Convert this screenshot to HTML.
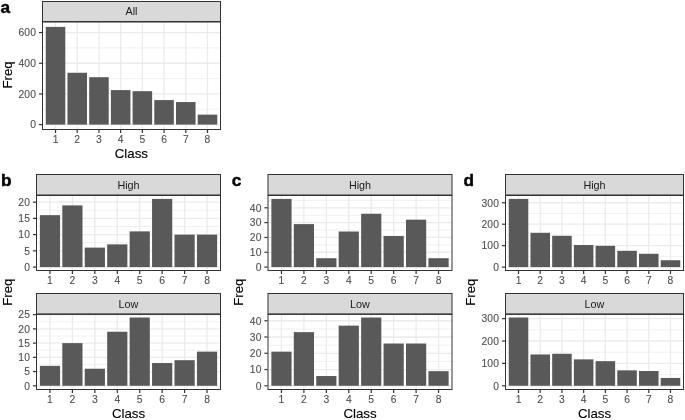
<!DOCTYPE html>
<html><head><meta charset="utf-8"><title>Figure</title>
<style>
html,body{margin:0;padding:0;background:#fff;}
svg{display:block;will-change:transform;font-family:"Liberation Sans", Arial, Helvetica, sans-serif;}
</style></head><body>
<svg width="685" height="420" viewBox="0 0 685 420">
<rect width="685" height="420" fill="#fff"/>
<rect x="42.50" y="22.00" width="178.00" height="107.50" fill="#fff"/>
<line x1="42.50" x2="220.50" y1="109.27" y2="109.27" stroke="#ebebeb" stroke-width="0.7"/>
<line x1="42.50" x2="220.50" y1="78.59" y2="78.59" stroke="#ebebeb" stroke-width="0.7"/>
<line x1="42.50" x2="220.50" y1="47.90" y2="47.90" stroke="#ebebeb" stroke-width="0.7"/>
<line x1="42.50" x2="220.50" y1="124.61" y2="124.61" stroke="#ebebeb" stroke-width="1.3"/>
<line x1="42.50" x2="220.50" y1="93.93" y2="93.93" stroke="#ebebeb" stroke-width="1.3"/>
<line x1="42.50" x2="220.50" y1="63.25" y2="63.25" stroke="#ebebeb" stroke-width="1.3"/>
<line x1="42.50" x2="220.50" y1="32.56" y2="32.56" stroke="#ebebeb" stroke-width="1.3"/>
<line x1="55.52" x2="55.52" y1="22.00" y2="129.50" stroke="#ebebeb" stroke-width="1.3"/>
<line x1="77.23" x2="77.23" y1="22.00" y2="129.50" stroke="#ebebeb" stroke-width="1.3"/>
<line x1="98.94" x2="98.94" y1="22.00" y2="129.50" stroke="#ebebeb" stroke-width="1.3"/>
<line x1="120.65" x2="120.65" y1="22.00" y2="129.50" stroke="#ebebeb" stroke-width="1.3"/>
<line x1="142.35" x2="142.35" y1="22.00" y2="129.50" stroke="#ebebeb" stroke-width="1.3"/>
<line x1="164.06" x2="164.06" y1="22.00" y2="129.50" stroke="#ebebeb" stroke-width="1.3"/>
<line x1="185.77" x2="185.77" y1="22.00" y2="129.50" stroke="#ebebeb" stroke-width="1.3"/>
<line x1="207.48" x2="207.48" y1="22.00" y2="129.50" stroke="#ebebeb" stroke-width="1.3"/>
<rect x="45.76" y="26.89" width="19.54" height="97.73" fill="#595959"/>
<rect x="67.46" y="72.76" width="19.54" height="51.86" fill="#595959"/>
<rect x="89.17" y="77.21" width="19.54" height="47.41" fill="#595959"/>
<rect x="110.88" y="90.09" width="19.54" height="34.52" fill="#595959"/>
<rect x="132.59" y="91.17" width="19.54" height="33.45" fill="#595959"/>
<rect x="154.29" y="100.07" width="19.54" height="24.55" fill="#595959"/>
<rect x="176.00" y="102.06" width="19.54" height="22.55" fill="#595959"/>
<rect x="197.71" y="114.64" width="19.54" height="9.97" fill="#595959"/>
<rect x="42.50" y="22.00" width="178.00" height="107.50" fill="none" stroke="#333" stroke-width="1"/>
<rect x="42.50" y="1.50" width="178.00" height="20.00" fill="#d9d9d9" stroke="#333" stroke-width="1"/>
<text x="131.50" y="15.40" text-anchor="middle" font-size="10.8" fill="#1a1a1a">All</text>
<line x1="38.90" x2="42.00" y1="124.61" y2="124.61" stroke="#333" stroke-width="1.2"/>
<text x="36.10" y="128.41" text-anchor="end" letter-spacing="0.17" font-size="10.3" fill="#4d4d4d" stroke="#4d4d4d" stroke-width="0.1">0</text>
<line x1="38.90" x2="42.00" y1="93.93" y2="93.93" stroke="#333" stroke-width="1.2"/>
<text x="36.10" y="97.73" text-anchor="end" letter-spacing="0.17" font-size="10.3" fill="#4d4d4d" stroke="#4d4d4d" stroke-width="0.1">200</text>
<line x1="38.90" x2="42.00" y1="63.25" y2="63.25" stroke="#333" stroke-width="1.2"/>
<text x="36.10" y="67.05" text-anchor="end" letter-spacing="0.17" font-size="10.3" fill="#4d4d4d" stroke="#4d4d4d" stroke-width="0.1">400</text>
<line x1="38.90" x2="42.00" y1="32.56" y2="32.56" stroke="#333" stroke-width="1.2"/>
<text x="36.10" y="36.36" text-anchor="end" letter-spacing="0.17" font-size="10.3" fill="#4d4d4d" stroke="#4d4d4d" stroke-width="0.1">600</text>
<line x1="55.52" x2="55.52" y1="130.00" y2="133.00" stroke="#333" stroke-width="1.2"/>
<text x="55.52" y="143.45" text-anchor="middle" font-size="10.3" fill="#4d4d4d" stroke="#4d4d4d" stroke-width="0.1">1</text>
<line x1="77.23" x2="77.23" y1="130.00" y2="133.00" stroke="#333" stroke-width="1.2"/>
<text x="77.23" y="143.45" text-anchor="middle" font-size="10.3" fill="#4d4d4d" stroke="#4d4d4d" stroke-width="0.1">2</text>
<line x1="98.94" x2="98.94" y1="130.00" y2="133.00" stroke="#333" stroke-width="1.2"/>
<text x="98.94" y="143.45" text-anchor="middle" font-size="10.3" fill="#4d4d4d" stroke="#4d4d4d" stroke-width="0.1">3</text>
<line x1="120.65" x2="120.65" y1="130.00" y2="133.00" stroke="#333" stroke-width="1.2"/>
<text x="120.65" y="143.45" text-anchor="middle" font-size="10.3" fill="#4d4d4d" stroke="#4d4d4d" stroke-width="0.1">4</text>
<line x1="142.35" x2="142.35" y1="130.00" y2="133.00" stroke="#333" stroke-width="1.2"/>
<text x="142.35" y="143.45" text-anchor="middle" font-size="10.3" fill="#4d4d4d" stroke="#4d4d4d" stroke-width="0.1">5</text>
<line x1="164.06" x2="164.06" y1="130.00" y2="133.00" stroke="#333" stroke-width="1.2"/>
<text x="164.06" y="143.45" text-anchor="middle" font-size="10.3" fill="#4d4d4d" stroke="#4d4d4d" stroke-width="0.1">6</text>
<line x1="185.77" x2="185.77" y1="130.00" y2="133.00" stroke="#333" stroke-width="1.2"/>
<text x="185.77" y="143.45" text-anchor="middle" font-size="10.3" fill="#4d4d4d" stroke="#4d4d4d" stroke-width="0.1">7</text>
<line x1="207.48" x2="207.48" y1="130.00" y2="133.00" stroke="#333" stroke-width="1.2"/>
<text x="207.48" y="143.45" text-anchor="middle" font-size="10.3" fill="#4d4d4d" stroke="#4d4d4d" stroke-width="0.1">8</text>
<text x="131.40" y="158.40" text-anchor="middle" font-size="13.3" fill="#000" stroke="#000" stroke-width="0.12">Class</text>
<text transform="translate(11.90,74.90) rotate(-90)" text-anchor="middle" font-size="13.3" fill="#000" stroke="#000" stroke-width="0.12">Freq</text>
<text x="0.60" y="12.70" font-size="17.2" font-weight="bold" fill="#000" stroke="#000" stroke-width="0.45">a</text>
<rect x="36.50" y="195.50" width="184.00" height="75.00" fill="#fff"/>
<line x1="36.50" x2="220.50" y1="258.97" y2="258.97" stroke="#ebebeb" stroke-width="0.7"/>
<line x1="36.50" x2="220.50" y1="242.74" y2="242.74" stroke="#ebebeb" stroke-width="0.7"/>
<line x1="36.50" x2="220.50" y1="226.51" y2="226.51" stroke="#ebebeb" stroke-width="0.7"/>
<line x1="36.50" x2="220.50" y1="210.27" y2="210.27" stroke="#ebebeb" stroke-width="0.7"/>
<line x1="36.50" x2="220.50" y1="267.09" y2="267.09" stroke="#ebebeb" stroke-width="1.3"/>
<line x1="36.50" x2="220.50" y1="250.86" y2="250.86" stroke="#ebebeb" stroke-width="1.3"/>
<line x1="36.50" x2="220.50" y1="234.62" y2="234.62" stroke="#ebebeb" stroke-width="1.3"/>
<line x1="36.50" x2="220.50" y1="218.39" y2="218.39" stroke="#ebebeb" stroke-width="1.3"/>
<line x1="36.50" x2="220.50" y1="202.16" y2="202.16" stroke="#ebebeb" stroke-width="1.3"/>
<line x1="49.96" x2="49.96" y1="195.50" y2="270.50" stroke="#ebebeb" stroke-width="1.3"/>
<line x1="72.40" x2="72.40" y1="195.50" y2="270.50" stroke="#ebebeb" stroke-width="1.3"/>
<line x1="94.84" x2="94.84" y1="195.50" y2="270.50" stroke="#ebebeb" stroke-width="1.3"/>
<line x1="117.28" x2="117.28" y1="195.50" y2="270.50" stroke="#ebebeb" stroke-width="1.3"/>
<line x1="139.72" x2="139.72" y1="195.50" y2="270.50" stroke="#ebebeb" stroke-width="1.3"/>
<line x1="162.16" x2="162.16" y1="195.50" y2="270.50" stroke="#ebebeb" stroke-width="1.3"/>
<line x1="184.60" x2="184.60" y1="195.50" y2="270.50" stroke="#ebebeb" stroke-width="1.3"/>
<line x1="207.04" x2="207.04" y1="195.50" y2="270.50" stroke="#ebebeb" stroke-width="1.3"/>
<rect x="39.87" y="215.14" width="20.20" height="51.95" fill="#595959"/>
<rect x="62.30" y="205.40" width="20.20" height="61.69" fill="#595959"/>
<rect x="84.74" y="247.61" width="20.20" height="19.48" fill="#595959"/>
<rect x="107.18" y="244.36" width="20.20" height="22.73" fill="#595959"/>
<rect x="129.62" y="231.38" width="20.20" height="35.71" fill="#595959"/>
<rect x="152.06" y="198.91" width="20.20" height="68.18" fill="#595959"/>
<rect x="174.50" y="234.62" width="20.20" height="32.47" fill="#595959"/>
<rect x="196.94" y="234.62" width="20.20" height="32.47" fill="#595959"/>
<rect x="36.50" y="195.50" width="184.00" height="75.00" fill="none" stroke="#333" stroke-width="1"/>
<rect x="36.50" y="174.50" width="184.00" height="20.50" fill="#d9d9d9" stroke="#333" stroke-width="1"/>
<text x="128.50" y="188.65" text-anchor="middle" font-size="10.8" fill="#1a1a1a">High</text>
<line x1="32.90" x2="36.00" y1="267.09" y2="267.09" stroke="#333" stroke-width="1.2"/>
<text x="30.10" y="270.89" text-anchor="end" letter-spacing="0.17" font-size="10.3" fill="#4d4d4d" stroke="#4d4d4d" stroke-width="0.1">0</text>
<line x1="32.90" x2="36.00" y1="250.86" y2="250.86" stroke="#333" stroke-width="1.2"/>
<text x="30.10" y="254.66" text-anchor="end" letter-spacing="0.17" font-size="10.3" fill="#4d4d4d" stroke="#4d4d4d" stroke-width="0.1">5</text>
<line x1="32.90" x2="36.00" y1="234.62" y2="234.62" stroke="#333" stroke-width="1.2"/>
<text x="30.10" y="238.42" text-anchor="end" letter-spacing="0.17" font-size="10.3" fill="#4d4d4d" stroke="#4d4d4d" stroke-width="0.1">10</text>
<line x1="32.90" x2="36.00" y1="218.39" y2="218.39" stroke="#333" stroke-width="1.2"/>
<text x="30.10" y="222.19" text-anchor="end" letter-spacing="0.17" font-size="10.3" fill="#4d4d4d" stroke="#4d4d4d" stroke-width="0.1">15</text>
<line x1="32.90" x2="36.00" y1="202.16" y2="202.16" stroke="#333" stroke-width="1.2"/>
<text x="30.10" y="205.96" text-anchor="end" letter-spacing="0.17" font-size="10.3" fill="#4d4d4d" stroke="#4d4d4d" stroke-width="0.1">20</text>
<line x1="49.96" x2="49.96" y1="271.00" y2="274.00" stroke="#333" stroke-width="1.2"/>
<text x="49.96" y="284.45" text-anchor="middle" font-size="10.3" fill="#4d4d4d" stroke="#4d4d4d" stroke-width="0.1">1</text>
<line x1="72.40" x2="72.40" y1="271.00" y2="274.00" stroke="#333" stroke-width="1.2"/>
<text x="72.40" y="284.45" text-anchor="middle" font-size="10.3" fill="#4d4d4d" stroke="#4d4d4d" stroke-width="0.1">2</text>
<line x1="94.84" x2="94.84" y1="271.00" y2="274.00" stroke="#333" stroke-width="1.2"/>
<text x="94.84" y="284.45" text-anchor="middle" font-size="10.3" fill="#4d4d4d" stroke="#4d4d4d" stroke-width="0.1">3</text>
<line x1="117.28" x2="117.28" y1="271.00" y2="274.00" stroke="#333" stroke-width="1.2"/>
<text x="117.28" y="284.45" text-anchor="middle" font-size="10.3" fill="#4d4d4d" stroke="#4d4d4d" stroke-width="0.1">4</text>
<line x1="139.72" x2="139.72" y1="271.00" y2="274.00" stroke="#333" stroke-width="1.2"/>
<text x="139.72" y="284.45" text-anchor="middle" font-size="10.3" fill="#4d4d4d" stroke="#4d4d4d" stroke-width="0.1">5</text>
<line x1="162.16" x2="162.16" y1="271.00" y2="274.00" stroke="#333" stroke-width="1.2"/>
<text x="162.16" y="284.45" text-anchor="middle" font-size="10.3" fill="#4d4d4d" stroke="#4d4d4d" stroke-width="0.1">6</text>
<line x1="184.60" x2="184.60" y1="271.00" y2="274.00" stroke="#333" stroke-width="1.2"/>
<text x="184.60" y="284.45" text-anchor="middle" font-size="10.3" fill="#4d4d4d" stroke="#4d4d4d" stroke-width="0.1">7</text>
<line x1="207.04" x2="207.04" y1="271.00" y2="274.00" stroke="#333" stroke-width="1.2"/>
<text x="207.04" y="284.45" text-anchor="middle" font-size="10.3" fill="#4d4d4d" stroke="#4d4d4d" stroke-width="0.1">8</text>
<rect x="36.50" y="314.40" width="184.00" height="75.10" fill="#fff"/>
<line x1="36.50" x2="220.50" y1="378.67" y2="378.67" stroke="#ebebeb" stroke-width="0.7"/>
<line x1="36.50" x2="220.50" y1="364.45" y2="364.45" stroke="#ebebeb" stroke-width="0.7"/>
<line x1="36.50" x2="220.50" y1="350.23" y2="350.23" stroke="#ebebeb" stroke-width="0.7"/>
<line x1="36.50" x2="220.50" y1="336.00" y2="336.00" stroke="#ebebeb" stroke-width="0.7"/>
<line x1="36.50" x2="220.50" y1="321.78" y2="321.78" stroke="#ebebeb" stroke-width="0.7"/>
<line x1="36.50" x2="220.50" y1="385.79" y2="385.79" stroke="#ebebeb" stroke-width="1.3"/>
<line x1="36.50" x2="220.50" y1="371.56" y2="371.56" stroke="#ebebeb" stroke-width="1.3"/>
<line x1="36.50" x2="220.50" y1="357.34" y2="357.34" stroke="#ebebeb" stroke-width="1.3"/>
<line x1="36.50" x2="220.50" y1="343.12" y2="343.12" stroke="#ebebeb" stroke-width="1.3"/>
<line x1="36.50" x2="220.50" y1="328.89" y2="328.89" stroke="#ebebeb" stroke-width="1.3"/>
<line x1="36.50" x2="220.50" y1="314.67" y2="314.67" stroke="#ebebeb" stroke-width="1.3"/>
<line x1="49.96" x2="49.96" y1="314.40" y2="389.50" stroke="#ebebeb" stroke-width="1.3"/>
<line x1="72.40" x2="72.40" y1="314.40" y2="389.50" stroke="#ebebeb" stroke-width="1.3"/>
<line x1="94.84" x2="94.84" y1="314.40" y2="389.50" stroke="#ebebeb" stroke-width="1.3"/>
<line x1="117.28" x2="117.28" y1="314.40" y2="389.50" stroke="#ebebeb" stroke-width="1.3"/>
<line x1="139.72" x2="139.72" y1="314.40" y2="389.50" stroke="#ebebeb" stroke-width="1.3"/>
<line x1="162.16" x2="162.16" y1="314.40" y2="389.50" stroke="#ebebeb" stroke-width="1.3"/>
<line x1="184.60" x2="184.60" y1="314.40" y2="389.50" stroke="#ebebeb" stroke-width="1.3"/>
<line x1="207.04" x2="207.04" y1="314.40" y2="389.50" stroke="#ebebeb" stroke-width="1.3"/>
<rect x="39.87" y="365.87" width="20.20" height="19.91" fill="#595959"/>
<rect x="62.30" y="343.12" width="20.20" height="42.67" fill="#595959"/>
<rect x="84.74" y="368.72" width="20.20" height="17.07" fill="#595959"/>
<rect x="107.18" y="331.74" width="20.20" height="54.05" fill="#595959"/>
<rect x="129.62" y="317.51" width="20.20" height="68.27" fill="#595959"/>
<rect x="152.06" y="363.03" width="20.20" height="22.76" fill="#595959"/>
<rect x="174.50" y="360.18" width="20.20" height="25.60" fill="#595959"/>
<rect x="196.94" y="351.65" width="20.20" height="34.14" fill="#595959"/>
<rect x="36.50" y="314.40" width="184.00" height="75.10" fill="none" stroke="#333" stroke-width="1"/>
<rect x="36.50" y="293.50" width="184.00" height="20.40" fill="#d9d9d9" stroke="#333" stroke-width="1"/>
<text x="128.50" y="307.60" text-anchor="middle" font-size="10.8" fill="#1a1a1a">Low</text>
<line x1="32.90" x2="36.00" y1="385.79" y2="385.79" stroke="#333" stroke-width="1.2"/>
<text x="30.10" y="389.59" text-anchor="end" letter-spacing="0.17" font-size="10.3" fill="#4d4d4d" stroke="#4d4d4d" stroke-width="0.1">0</text>
<line x1="32.90" x2="36.00" y1="371.56" y2="371.56" stroke="#333" stroke-width="1.2"/>
<text x="30.10" y="375.36" text-anchor="end" letter-spacing="0.17" font-size="10.3" fill="#4d4d4d" stroke="#4d4d4d" stroke-width="0.1">5</text>
<line x1="32.90" x2="36.00" y1="357.34" y2="357.34" stroke="#333" stroke-width="1.2"/>
<text x="30.10" y="361.14" text-anchor="end" letter-spacing="0.17" font-size="10.3" fill="#4d4d4d" stroke="#4d4d4d" stroke-width="0.1">10</text>
<line x1="32.90" x2="36.00" y1="343.12" y2="343.12" stroke="#333" stroke-width="1.2"/>
<text x="30.10" y="346.92" text-anchor="end" letter-spacing="0.17" font-size="10.3" fill="#4d4d4d" stroke="#4d4d4d" stroke-width="0.1">15</text>
<line x1="32.90" x2="36.00" y1="328.89" y2="328.89" stroke="#333" stroke-width="1.2"/>
<text x="30.10" y="332.69" text-anchor="end" letter-spacing="0.17" font-size="10.3" fill="#4d4d4d" stroke="#4d4d4d" stroke-width="0.1">20</text>
<line x1="32.90" x2="36.00" y1="314.67" y2="314.67" stroke="#333" stroke-width="1.2"/>
<text x="30.10" y="318.47" text-anchor="end" letter-spacing="0.17" font-size="10.3" fill="#4d4d4d" stroke="#4d4d4d" stroke-width="0.1">25</text>
<line x1="49.96" x2="49.96" y1="390.00" y2="393.00" stroke="#333" stroke-width="1.2"/>
<text x="49.96" y="403.45" text-anchor="middle" font-size="10.3" fill="#4d4d4d" stroke="#4d4d4d" stroke-width="0.1">1</text>
<line x1="72.40" x2="72.40" y1="390.00" y2="393.00" stroke="#333" stroke-width="1.2"/>
<text x="72.40" y="403.45" text-anchor="middle" font-size="10.3" fill="#4d4d4d" stroke="#4d4d4d" stroke-width="0.1">2</text>
<line x1="94.84" x2="94.84" y1="390.00" y2="393.00" stroke="#333" stroke-width="1.2"/>
<text x="94.84" y="403.45" text-anchor="middle" font-size="10.3" fill="#4d4d4d" stroke="#4d4d4d" stroke-width="0.1">3</text>
<line x1="117.28" x2="117.28" y1="390.00" y2="393.00" stroke="#333" stroke-width="1.2"/>
<text x="117.28" y="403.45" text-anchor="middle" font-size="10.3" fill="#4d4d4d" stroke="#4d4d4d" stroke-width="0.1">4</text>
<line x1="139.72" x2="139.72" y1="390.00" y2="393.00" stroke="#333" stroke-width="1.2"/>
<text x="139.72" y="403.45" text-anchor="middle" font-size="10.3" fill="#4d4d4d" stroke="#4d4d4d" stroke-width="0.1">5</text>
<line x1="162.16" x2="162.16" y1="390.00" y2="393.00" stroke="#333" stroke-width="1.2"/>
<text x="162.16" y="403.45" text-anchor="middle" font-size="10.3" fill="#4d4d4d" stroke="#4d4d4d" stroke-width="0.1">6</text>
<line x1="184.60" x2="184.60" y1="390.00" y2="393.00" stroke="#333" stroke-width="1.2"/>
<text x="184.60" y="403.45" text-anchor="middle" font-size="10.3" fill="#4d4d4d" stroke="#4d4d4d" stroke-width="0.1">7</text>
<line x1="207.04" x2="207.04" y1="390.00" y2="393.00" stroke="#333" stroke-width="1.2"/>
<text x="207.04" y="403.45" text-anchor="middle" font-size="10.3" fill="#4d4d4d" stroke="#4d4d4d" stroke-width="0.1">8</text>
<text x="128.50" y="418.40" text-anchor="middle" font-size="13.3" fill="#000" stroke="#000" stroke-width="0.12">Class</text>
<text transform="translate(12.00,292.20) rotate(-90)" text-anchor="middle" font-size="13.3" fill="#000" stroke="#000" stroke-width="0.12">Freq</text>
<text x="1.00" y="186.40" font-size="17.2" font-weight="bold" fill="#000" stroke="#000" stroke-width="0.45">b</text>
<rect x="268.00" y="195.50" width="184.00" height="75.00" fill="#fff"/>
<line x1="268.00" x2="452.00" y1="259.68" y2="259.68" stroke="#ebebeb" stroke-width="0.7"/>
<line x1="268.00" x2="452.00" y1="244.86" y2="244.86" stroke="#ebebeb" stroke-width="0.7"/>
<line x1="268.00" x2="452.00" y1="230.04" y2="230.04" stroke="#ebebeb" stroke-width="0.7"/>
<line x1="268.00" x2="452.00" y1="215.21" y2="215.21" stroke="#ebebeb" stroke-width="0.7"/>
<line x1="268.00" x2="452.00" y1="200.39" y2="200.39" stroke="#ebebeb" stroke-width="0.7"/>
<line x1="268.00" x2="452.00" y1="267.09" y2="267.09" stroke="#ebebeb" stroke-width="1.3"/>
<line x1="268.00" x2="452.00" y1="252.27" y2="252.27" stroke="#ebebeb" stroke-width="1.3"/>
<line x1="268.00" x2="452.00" y1="237.45" y2="237.45" stroke="#ebebeb" stroke-width="1.3"/>
<line x1="268.00" x2="452.00" y1="222.62" y2="222.62" stroke="#ebebeb" stroke-width="1.3"/>
<line x1="268.00" x2="452.00" y1="207.80" y2="207.80" stroke="#ebebeb" stroke-width="1.3"/>
<line x1="281.46" x2="281.46" y1="195.50" y2="270.50" stroke="#ebebeb" stroke-width="1.3"/>
<line x1="303.90" x2="303.90" y1="195.50" y2="270.50" stroke="#ebebeb" stroke-width="1.3"/>
<line x1="326.34" x2="326.34" y1="195.50" y2="270.50" stroke="#ebebeb" stroke-width="1.3"/>
<line x1="348.78" x2="348.78" y1="195.50" y2="270.50" stroke="#ebebeb" stroke-width="1.3"/>
<line x1="371.22" x2="371.22" y1="195.50" y2="270.50" stroke="#ebebeb" stroke-width="1.3"/>
<line x1="393.66" x2="393.66" y1="195.50" y2="270.50" stroke="#ebebeb" stroke-width="1.3"/>
<line x1="416.10" x2="416.10" y1="195.50" y2="270.50" stroke="#ebebeb" stroke-width="1.3"/>
<line x1="438.54" x2="438.54" y1="195.50" y2="270.50" stroke="#ebebeb" stroke-width="1.3"/>
<rect x="271.37" y="198.91" width="20.20" height="68.18" fill="#595959"/>
<rect x="293.80" y="224.11" width="20.20" height="42.98" fill="#595959"/>
<rect x="316.24" y="258.20" width="20.20" height="8.89" fill="#595959"/>
<rect x="338.68" y="231.52" width="20.20" height="35.57" fill="#595959"/>
<rect x="361.12" y="213.73" width="20.20" height="53.36" fill="#595959"/>
<rect x="383.56" y="235.96" width="20.20" height="31.13" fill="#595959"/>
<rect x="406.00" y="219.66" width="20.20" height="47.43" fill="#595959"/>
<rect x="428.44" y="258.20" width="20.20" height="8.89" fill="#595959"/>
<rect x="268.00" y="195.50" width="184.00" height="75.00" fill="none" stroke="#333" stroke-width="1"/>
<rect x="268.00" y="174.50" width="184.00" height="20.50" fill="#d9d9d9" stroke="#333" stroke-width="1"/>
<text x="360.00" y="188.65" text-anchor="middle" font-size="10.8" fill="#1a1a1a">High</text>
<line x1="264.40" x2="267.50" y1="267.09" y2="267.09" stroke="#333" stroke-width="1.2"/>
<text x="261.60" y="270.89" text-anchor="end" letter-spacing="0.17" font-size="10.3" fill="#4d4d4d" stroke="#4d4d4d" stroke-width="0.1">0</text>
<line x1="264.40" x2="267.50" y1="252.27" y2="252.27" stroke="#333" stroke-width="1.2"/>
<text x="261.60" y="256.07" text-anchor="end" letter-spacing="0.17" font-size="10.3" fill="#4d4d4d" stroke="#4d4d4d" stroke-width="0.1">10</text>
<line x1="264.40" x2="267.50" y1="237.45" y2="237.45" stroke="#333" stroke-width="1.2"/>
<text x="261.60" y="241.25" text-anchor="end" letter-spacing="0.17" font-size="10.3" fill="#4d4d4d" stroke="#4d4d4d" stroke-width="0.1">20</text>
<line x1="264.40" x2="267.50" y1="222.62" y2="222.62" stroke="#333" stroke-width="1.2"/>
<text x="261.60" y="226.42" text-anchor="end" letter-spacing="0.17" font-size="10.3" fill="#4d4d4d" stroke="#4d4d4d" stroke-width="0.1">30</text>
<line x1="264.40" x2="267.50" y1="207.80" y2="207.80" stroke="#333" stroke-width="1.2"/>
<text x="261.60" y="211.60" text-anchor="end" letter-spacing="0.17" font-size="10.3" fill="#4d4d4d" stroke="#4d4d4d" stroke-width="0.1">40</text>
<line x1="281.46" x2="281.46" y1="271.00" y2="274.00" stroke="#333" stroke-width="1.2"/>
<text x="281.46" y="284.45" text-anchor="middle" font-size="10.3" fill="#4d4d4d" stroke="#4d4d4d" stroke-width="0.1">1</text>
<line x1="303.90" x2="303.90" y1="271.00" y2="274.00" stroke="#333" stroke-width="1.2"/>
<text x="303.90" y="284.45" text-anchor="middle" font-size="10.3" fill="#4d4d4d" stroke="#4d4d4d" stroke-width="0.1">2</text>
<line x1="326.34" x2="326.34" y1="271.00" y2="274.00" stroke="#333" stroke-width="1.2"/>
<text x="326.34" y="284.45" text-anchor="middle" font-size="10.3" fill="#4d4d4d" stroke="#4d4d4d" stroke-width="0.1">3</text>
<line x1="348.78" x2="348.78" y1="271.00" y2="274.00" stroke="#333" stroke-width="1.2"/>
<text x="348.78" y="284.45" text-anchor="middle" font-size="10.3" fill="#4d4d4d" stroke="#4d4d4d" stroke-width="0.1">4</text>
<line x1="371.22" x2="371.22" y1="271.00" y2="274.00" stroke="#333" stroke-width="1.2"/>
<text x="371.22" y="284.45" text-anchor="middle" font-size="10.3" fill="#4d4d4d" stroke="#4d4d4d" stroke-width="0.1">5</text>
<line x1="393.66" x2="393.66" y1="271.00" y2="274.00" stroke="#333" stroke-width="1.2"/>
<text x="393.66" y="284.45" text-anchor="middle" font-size="10.3" fill="#4d4d4d" stroke="#4d4d4d" stroke-width="0.1">6</text>
<line x1="416.10" x2="416.10" y1="271.00" y2="274.00" stroke="#333" stroke-width="1.2"/>
<text x="416.10" y="284.45" text-anchor="middle" font-size="10.3" fill="#4d4d4d" stroke="#4d4d4d" stroke-width="0.1">7</text>
<line x1="438.54" x2="438.54" y1="271.00" y2="274.00" stroke="#333" stroke-width="1.2"/>
<text x="438.54" y="284.45" text-anchor="middle" font-size="10.3" fill="#4d4d4d" stroke="#4d4d4d" stroke-width="0.1">8</text>
<rect x="268.00" y="314.40" width="184.00" height="75.10" fill="#fff"/>
<line x1="268.00" x2="452.00" y1="377.66" y2="377.66" stroke="#ebebeb" stroke-width="0.7"/>
<line x1="268.00" x2="452.00" y1="361.40" y2="361.40" stroke="#ebebeb" stroke-width="0.7"/>
<line x1="268.00" x2="452.00" y1="345.15" y2="345.15" stroke="#ebebeb" stroke-width="0.7"/>
<line x1="268.00" x2="452.00" y1="328.89" y2="328.89" stroke="#ebebeb" stroke-width="0.7"/>
<line x1="268.00" x2="452.00" y1="385.79" y2="385.79" stroke="#ebebeb" stroke-width="1.3"/>
<line x1="268.00" x2="452.00" y1="369.53" y2="369.53" stroke="#ebebeb" stroke-width="1.3"/>
<line x1="268.00" x2="452.00" y1="353.28" y2="353.28" stroke="#ebebeb" stroke-width="1.3"/>
<line x1="268.00" x2="452.00" y1="337.02" y2="337.02" stroke="#ebebeb" stroke-width="1.3"/>
<line x1="268.00" x2="452.00" y1="320.76" y2="320.76" stroke="#ebebeb" stroke-width="1.3"/>
<line x1="281.46" x2="281.46" y1="314.40" y2="389.50" stroke="#ebebeb" stroke-width="1.3"/>
<line x1="303.90" x2="303.90" y1="314.40" y2="389.50" stroke="#ebebeb" stroke-width="1.3"/>
<line x1="326.34" x2="326.34" y1="314.40" y2="389.50" stroke="#ebebeb" stroke-width="1.3"/>
<line x1="348.78" x2="348.78" y1="314.40" y2="389.50" stroke="#ebebeb" stroke-width="1.3"/>
<line x1="371.22" x2="371.22" y1="314.40" y2="389.50" stroke="#ebebeb" stroke-width="1.3"/>
<line x1="393.66" x2="393.66" y1="314.40" y2="389.50" stroke="#ebebeb" stroke-width="1.3"/>
<line x1="416.10" x2="416.10" y1="314.40" y2="389.50" stroke="#ebebeb" stroke-width="1.3"/>
<line x1="438.54" x2="438.54" y1="314.40" y2="389.50" stroke="#ebebeb" stroke-width="1.3"/>
<rect x="271.37" y="351.65" width="20.20" height="34.14" fill="#595959"/>
<rect x="293.80" y="332.14" width="20.20" height="53.64" fill="#595959"/>
<rect x="316.24" y="376.03" width="20.20" height="9.75" fill="#595959"/>
<rect x="338.68" y="325.64" width="20.20" height="60.15" fill="#595959"/>
<rect x="361.12" y="317.51" width="20.20" height="68.27" fill="#595959"/>
<rect x="383.56" y="343.52" width="20.20" height="42.26" fill="#595959"/>
<rect x="406.00" y="343.52" width="20.20" height="42.26" fill="#595959"/>
<rect x="428.44" y="371.16" width="20.20" height="14.63" fill="#595959"/>
<rect x="268.00" y="314.40" width="184.00" height="75.10" fill="none" stroke="#333" stroke-width="1"/>
<rect x="268.00" y="293.50" width="184.00" height="20.40" fill="#d9d9d9" stroke="#333" stroke-width="1"/>
<text x="360.00" y="307.60" text-anchor="middle" font-size="10.8" fill="#1a1a1a">Low</text>
<line x1="264.40" x2="267.50" y1="385.79" y2="385.79" stroke="#333" stroke-width="1.2"/>
<text x="261.60" y="389.59" text-anchor="end" letter-spacing="0.17" font-size="10.3" fill="#4d4d4d" stroke="#4d4d4d" stroke-width="0.1">0</text>
<line x1="264.40" x2="267.50" y1="369.53" y2="369.53" stroke="#333" stroke-width="1.2"/>
<text x="261.60" y="373.33" text-anchor="end" letter-spacing="0.17" font-size="10.3" fill="#4d4d4d" stroke="#4d4d4d" stroke-width="0.1">10</text>
<line x1="264.40" x2="267.50" y1="353.28" y2="353.28" stroke="#333" stroke-width="1.2"/>
<text x="261.60" y="357.08" text-anchor="end" letter-spacing="0.17" font-size="10.3" fill="#4d4d4d" stroke="#4d4d4d" stroke-width="0.1">20</text>
<line x1="264.40" x2="267.50" y1="337.02" y2="337.02" stroke="#333" stroke-width="1.2"/>
<text x="261.60" y="340.82" text-anchor="end" letter-spacing="0.17" font-size="10.3" fill="#4d4d4d" stroke="#4d4d4d" stroke-width="0.1">30</text>
<line x1="264.40" x2="267.50" y1="320.76" y2="320.76" stroke="#333" stroke-width="1.2"/>
<text x="261.60" y="324.56" text-anchor="end" letter-spacing="0.17" font-size="10.3" fill="#4d4d4d" stroke="#4d4d4d" stroke-width="0.1">40</text>
<line x1="281.46" x2="281.46" y1="390.00" y2="393.00" stroke="#333" stroke-width="1.2"/>
<text x="281.46" y="403.45" text-anchor="middle" font-size="10.3" fill="#4d4d4d" stroke="#4d4d4d" stroke-width="0.1">1</text>
<line x1="303.90" x2="303.90" y1="390.00" y2="393.00" stroke="#333" stroke-width="1.2"/>
<text x="303.90" y="403.45" text-anchor="middle" font-size="10.3" fill="#4d4d4d" stroke="#4d4d4d" stroke-width="0.1">2</text>
<line x1="326.34" x2="326.34" y1="390.00" y2="393.00" stroke="#333" stroke-width="1.2"/>
<text x="326.34" y="403.45" text-anchor="middle" font-size="10.3" fill="#4d4d4d" stroke="#4d4d4d" stroke-width="0.1">3</text>
<line x1="348.78" x2="348.78" y1="390.00" y2="393.00" stroke="#333" stroke-width="1.2"/>
<text x="348.78" y="403.45" text-anchor="middle" font-size="10.3" fill="#4d4d4d" stroke="#4d4d4d" stroke-width="0.1">4</text>
<line x1="371.22" x2="371.22" y1="390.00" y2="393.00" stroke="#333" stroke-width="1.2"/>
<text x="371.22" y="403.45" text-anchor="middle" font-size="10.3" fill="#4d4d4d" stroke="#4d4d4d" stroke-width="0.1">5</text>
<line x1="393.66" x2="393.66" y1="390.00" y2="393.00" stroke="#333" stroke-width="1.2"/>
<text x="393.66" y="403.45" text-anchor="middle" font-size="10.3" fill="#4d4d4d" stroke="#4d4d4d" stroke-width="0.1">6</text>
<line x1="416.10" x2="416.10" y1="390.00" y2="393.00" stroke="#333" stroke-width="1.2"/>
<text x="416.10" y="403.45" text-anchor="middle" font-size="10.3" fill="#4d4d4d" stroke="#4d4d4d" stroke-width="0.1">7</text>
<line x1="438.54" x2="438.54" y1="390.00" y2="393.00" stroke="#333" stroke-width="1.2"/>
<text x="438.54" y="403.45" text-anchor="middle" font-size="10.3" fill="#4d4d4d" stroke="#4d4d4d" stroke-width="0.1">8</text>
<text x="360.00" y="418.40" text-anchor="middle" font-size="13.3" fill="#000" stroke="#000" stroke-width="0.12">Class</text>
<text transform="translate(243.20,292.20) rotate(-90)" text-anchor="middle" font-size="13.3" fill="#000" stroke="#000" stroke-width="0.12">Freq</text>
<text x="231.80" y="186.40" font-size="17.2" font-weight="bold" fill="#000" stroke="#000" stroke-width="0.45">c</text>
<rect x="505.50" y="195.50" width="178.00" height="75.00" fill="#fff"/>
<line x1="505.50" x2="683.50" y1="256.37" y2="256.37" stroke="#ebebeb" stroke-width="0.7"/>
<line x1="505.50" x2="683.50" y1="234.93" y2="234.93" stroke="#ebebeb" stroke-width="0.7"/>
<line x1="505.50" x2="683.50" y1="213.49" y2="213.49" stroke="#ebebeb" stroke-width="0.7"/>
<line x1="505.50" x2="683.50" y1="267.09" y2="267.09" stroke="#ebebeb" stroke-width="1.3"/>
<line x1="505.50" x2="683.50" y1="245.65" y2="245.65" stroke="#ebebeb" stroke-width="1.3"/>
<line x1="505.50" x2="683.50" y1="224.21" y2="224.21" stroke="#ebebeb" stroke-width="1.3"/>
<line x1="505.50" x2="683.50" y1="202.77" y2="202.77" stroke="#ebebeb" stroke-width="1.3"/>
<line x1="518.52" x2="518.52" y1="195.50" y2="270.50" stroke="#ebebeb" stroke-width="1.3"/>
<line x1="540.23" x2="540.23" y1="195.50" y2="270.50" stroke="#ebebeb" stroke-width="1.3"/>
<line x1="561.94" x2="561.94" y1="195.50" y2="270.50" stroke="#ebebeb" stroke-width="1.3"/>
<line x1="583.65" x2="583.65" y1="195.50" y2="270.50" stroke="#ebebeb" stroke-width="1.3"/>
<line x1="605.35" x2="605.35" y1="195.50" y2="270.50" stroke="#ebebeb" stroke-width="1.3"/>
<line x1="627.06" x2="627.06" y1="195.50" y2="270.50" stroke="#ebebeb" stroke-width="1.3"/>
<line x1="648.77" x2="648.77" y1="195.50" y2="270.50" stroke="#ebebeb" stroke-width="1.3"/>
<line x1="670.48" x2="670.48" y1="195.50" y2="270.50" stroke="#ebebeb" stroke-width="1.3"/>
<rect x="508.76" y="198.91" width="19.54" height="68.18" fill="#595959"/>
<rect x="530.46" y="232.79" width="19.54" height="34.31" fill="#595959"/>
<rect x="552.17" y="235.79" width="19.54" height="31.30" fill="#595959"/>
<rect x="573.88" y="245.01" width="19.54" height="22.08" fill="#595959"/>
<rect x="595.59" y="245.86" width="19.54" height="21.23" fill="#595959"/>
<rect x="617.29" y="250.80" width="19.54" height="16.30" fill="#595959"/>
<rect x="639.00" y="253.80" width="19.54" height="13.29" fill="#595959"/>
<rect x="660.71" y="260.23" width="19.54" height="6.86" fill="#595959"/>
<rect x="505.50" y="195.50" width="178.00" height="75.00" fill="none" stroke="#333" stroke-width="1"/>
<rect x="505.50" y="174.50" width="178.00" height="20.50" fill="#d9d9d9" stroke="#333" stroke-width="1"/>
<text x="594.50" y="188.65" text-anchor="middle" font-size="10.8" fill="#1a1a1a">High</text>
<line x1="501.90" x2="505.00" y1="267.09" y2="267.09" stroke="#333" stroke-width="1.2"/>
<text x="499.10" y="270.89" text-anchor="end" letter-spacing="0.17" font-size="10.3" fill="#4d4d4d" stroke="#4d4d4d" stroke-width="0.1">0</text>
<line x1="501.90" x2="505.00" y1="245.65" y2="245.65" stroke="#333" stroke-width="1.2"/>
<text x="499.10" y="249.45" text-anchor="end" letter-spacing="0.17" font-size="10.3" fill="#4d4d4d" stroke="#4d4d4d" stroke-width="0.1">100</text>
<line x1="501.90" x2="505.00" y1="224.21" y2="224.21" stroke="#333" stroke-width="1.2"/>
<text x="499.10" y="228.01" text-anchor="end" letter-spacing="0.17" font-size="10.3" fill="#4d4d4d" stroke="#4d4d4d" stroke-width="0.1">200</text>
<line x1="501.90" x2="505.00" y1="202.77" y2="202.77" stroke="#333" stroke-width="1.2"/>
<text x="499.10" y="206.57" text-anchor="end" letter-spacing="0.17" font-size="10.3" fill="#4d4d4d" stroke="#4d4d4d" stroke-width="0.1">300</text>
<line x1="518.52" x2="518.52" y1="271.00" y2="274.00" stroke="#333" stroke-width="1.2"/>
<text x="518.52" y="284.45" text-anchor="middle" font-size="10.3" fill="#4d4d4d" stroke="#4d4d4d" stroke-width="0.1">1</text>
<line x1="540.23" x2="540.23" y1="271.00" y2="274.00" stroke="#333" stroke-width="1.2"/>
<text x="540.23" y="284.45" text-anchor="middle" font-size="10.3" fill="#4d4d4d" stroke="#4d4d4d" stroke-width="0.1">2</text>
<line x1="561.94" x2="561.94" y1="271.00" y2="274.00" stroke="#333" stroke-width="1.2"/>
<text x="561.94" y="284.45" text-anchor="middle" font-size="10.3" fill="#4d4d4d" stroke="#4d4d4d" stroke-width="0.1">3</text>
<line x1="583.65" x2="583.65" y1="271.00" y2="274.00" stroke="#333" stroke-width="1.2"/>
<text x="583.65" y="284.45" text-anchor="middle" font-size="10.3" fill="#4d4d4d" stroke="#4d4d4d" stroke-width="0.1">4</text>
<line x1="605.35" x2="605.35" y1="271.00" y2="274.00" stroke="#333" stroke-width="1.2"/>
<text x="605.35" y="284.45" text-anchor="middle" font-size="10.3" fill="#4d4d4d" stroke="#4d4d4d" stroke-width="0.1">5</text>
<line x1="627.06" x2="627.06" y1="271.00" y2="274.00" stroke="#333" stroke-width="1.2"/>
<text x="627.06" y="284.45" text-anchor="middle" font-size="10.3" fill="#4d4d4d" stroke="#4d4d4d" stroke-width="0.1">6</text>
<line x1="648.77" x2="648.77" y1="271.00" y2="274.00" stroke="#333" stroke-width="1.2"/>
<text x="648.77" y="284.45" text-anchor="middle" font-size="10.3" fill="#4d4d4d" stroke="#4d4d4d" stroke-width="0.1">7</text>
<line x1="670.48" x2="670.48" y1="271.00" y2="274.00" stroke="#333" stroke-width="1.2"/>
<text x="670.48" y="284.45" text-anchor="middle" font-size="10.3" fill="#4d4d4d" stroke="#4d4d4d" stroke-width="0.1">8</text>
<rect x="505.50" y="314.40" width="178.00" height="75.10" fill="#fff"/>
<line x1="505.50" x2="683.50" y1="374.59" y2="374.59" stroke="#ebebeb" stroke-width="0.7"/>
<line x1="505.50" x2="683.50" y1="352.21" y2="352.21" stroke="#ebebeb" stroke-width="0.7"/>
<line x1="505.50" x2="683.50" y1="329.83" y2="329.83" stroke="#ebebeb" stroke-width="0.7"/>
<line x1="505.50" x2="683.50" y1="385.79" y2="385.79" stroke="#ebebeb" stroke-width="1.3"/>
<line x1="505.50" x2="683.50" y1="363.40" y2="363.40" stroke="#ebebeb" stroke-width="1.3"/>
<line x1="505.50" x2="683.50" y1="341.02" y2="341.02" stroke="#ebebeb" stroke-width="1.3"/>
<line x1="505.50" x2="683.50" y1="318.63" y2="318.63" stroke="#ebebeb" stroke-width="1.3"/>
<line x1="518.52" x2="518.52" y1="314.40" y2="389.50" stroke="#ebebeb" stroke-width="1.3"/>
<line x1="540.23" x2="540.23" y1="314.40" y2="389.50" stroke="#ebebeb" stroke-width="1.3"/>
<line x1="561.94" x2="561.94" y1="314.40" y2="389.50" stroke="#ebebeb" stroke-width="1.3"/>
<line x1="583.65" x2="583.65" y1="314.40" y2="389.50" stroke="#ebebeb" stroke-width="1.3"/>
<line x1="605.35" x2="605.35" y1="314.40" y2="389.50" stroke="#ebebeb" stroke-width="1.3"/>
<line x1="627.06" x2="627.06" y1="314.40" y2="389.50" stroke="#ebebeb" stroke-width="1.3"/>
<line x1="648.77" x2="648.77" y1="314.40" y2="389.50" stroke="#ebebeb" stroke-width="1.3"/>
<line x1="670.48" x2="670.48" y1="314.40" y2="389.50" stroke="#ebebeb" stroke-width="1.3"/>
<rect x="508.76" y="317.51" width="19.54" height="68.27" fill="#595959"/>
<rect x="530.46" y="354.45" width="19.54" height="31.34" fill="#595959"/>
<rect x="552.17" y="353.78" width="19.54" height="32.01" fill="#595959"/>
<rect x="573.88" y="359.37" width="19.54" height="26.41" fill="#595959"/>
<rect x="595.59" y="361.16" width="19.54" height="24.62" fill="#595959"/>
<rect x="617.29" y="370.34" width="19.54" height="15.45" fill="#595959"/>
<rect x="639.00" y="371.01" width="19.54" height="14.77" fill="#595959"/>
<rect x="660.71" y="377.95" width="19.54" height="7.83" fill="#595959"/>
<rect x="505.50" y="314.40" width="178.00" height="75.10" fill="none" stroke="#333" stroke-width="1"/>
<rect x="505.50" y="293.50" width="178.00" height="20.40" fill="#d9d9d9" stroke="#333" stroke-width="1"/>
<text x="594.50" y="307.60" text-anchor="middle" font-size="10.8" fill="#1a1a1a">Low</text>
<line x1="501.90" x2="505.00" y1="385.79" y2="385.79" stroke="#333" stroke-width="1.2"/>
<text x="499.10" y="389.59" text-anchor="end" letter-spacing="0.17" font-size="10.3" fill="#4d4d4d" stroke="#4d4d4d" stroke-width="0.1">0</text>
<line x1="501.90" x2="505.00" y1="363.40" y2="363.40" stroke="#333" stroke-width="1.2"/>
<text x="499.10" y="367.20" text-anchor="end" letter-spacing="0.17" font-size="10.3" fill="#4d4d4d" stroke="#4d4d4d" stroke-width="0.1">100</text>
<line x1="501.90" x2="505.00" y1="341.02" y2="341.02" stroke="#333" stroke-width="1.2"/>
<text x="499.10" y="344.82" text-anchor="end" letter-spacing="0.17" font-size="10.3" fill="#4d4d4d" stroke="#4d4d4d" stroke-width="0.1">200</text>
<line x1="501.90" x2="505.00" y1="318.63" y2="318.63" stroke="#333" stroke-width="1.2"/>
<text x="499.10" y="322.43" text-anchor="end" letter-spacing="0.17" font-size="10.3" fill="#4d4d4d" stroke="#4d4d4d" stroke-width="0.1">300</text>
<line x1="518.52" x2="518.52" y1="390.00" y2="393.00" stroke="#333" stroke-width="1.2"/>
<text x="518.52" y="403.45" text-anchor="middle" font-size="10.3" fill="#4d4d4d" stroke="#4d4d4d" stroke-width="0.1">1</text>
<line x1="540.23" x2="540.23" y1="390.00" y2="393.00" stroke="#333" stroke-width="1.2"/>
<text x="540.23" y="403.45" text-anchor="middle" font-size="10.3" fill="#4d4d4d" stroke="#4d4d4d" stroke-width="0.1">2</text>
<line x1="561.94" x2="561.94" y1="390.00" y2="393.00" stroke="#333" stroke-width="1.2"/>
<text x="561.94" y="403.45" text-anchor="middle" font-size="10.3" fill="#4d4d4d" stroke="#4d4d4d" stroke-width="0.1">3</text>
<line x1="583.65" x2="583.65" y1="390.00" y2="393.00" stroke="#333" stroke-width="1.2"/>
<text x="583.65" y="403.45" text-anchor="middle" font-size="10.3" fill="#4d4d4d" stroke="#4d4d4d" stroke-width="0.1">4</text>
<line x1="605.35" x2="605.35" y1="390.00" y2="393.00" stroke="#333" stroke-width="1.2"/>
<text x="605.35" y="403.45" text-anchor="middle" font-size="10.3" fill="#4d4d4d" stroke="#4d4d4d" stroke-width="0.1">5</text>
<line x1="627.06" x2="627.06" y1="390.00" y2="393.00" stroke="#333" stroke-width="1.2"/>
<text x="627.06" y="403.45" text-anchor="middle" font-size="10.3" fill="#4d4d4d" stroke="#4d4d4d" stroke-width="0.1">6</text>
<line x1="648.77" x2="648.77" y1="390.00" y2="393.00" stroke="#333" stroke-width="1.2"/>
<text x="648.77" y="403.45" text-anchor="middle" font-size="10.3" fill="#4d4d4d" stroke="#4d4d4d" stroke-width="0.1">7</text>
<line x1="670.48" x2="670.48" y1="390.00" y2="393.00" stroke="#333" stroke-width="1.2"/>
<text x="670.48" y="403.45" text-anchor="middle" font-size="10.3" fill="#4d4d4d" stroke="#4d4d4d" stroke-width="0.1">8</text>
<text x="594.50" y="418.40" text-anchor="middle" font-size="13.3" fill="#000" stroke="#000" stroke-width="0.12">Class</text>
<text transform="translate(474.90,292.20) rotate(-90)" text-anchor="middle" font-size="13.3" fill="#000" stroke="#000" stroke-width="0.12">Freq</text>
<text x="463.60" y="186.40" font-size="17.2" font-weight="bold" fill="#000" stroke="#000" stroke-width="0.45">d</text>
</svg>
</body></html>
